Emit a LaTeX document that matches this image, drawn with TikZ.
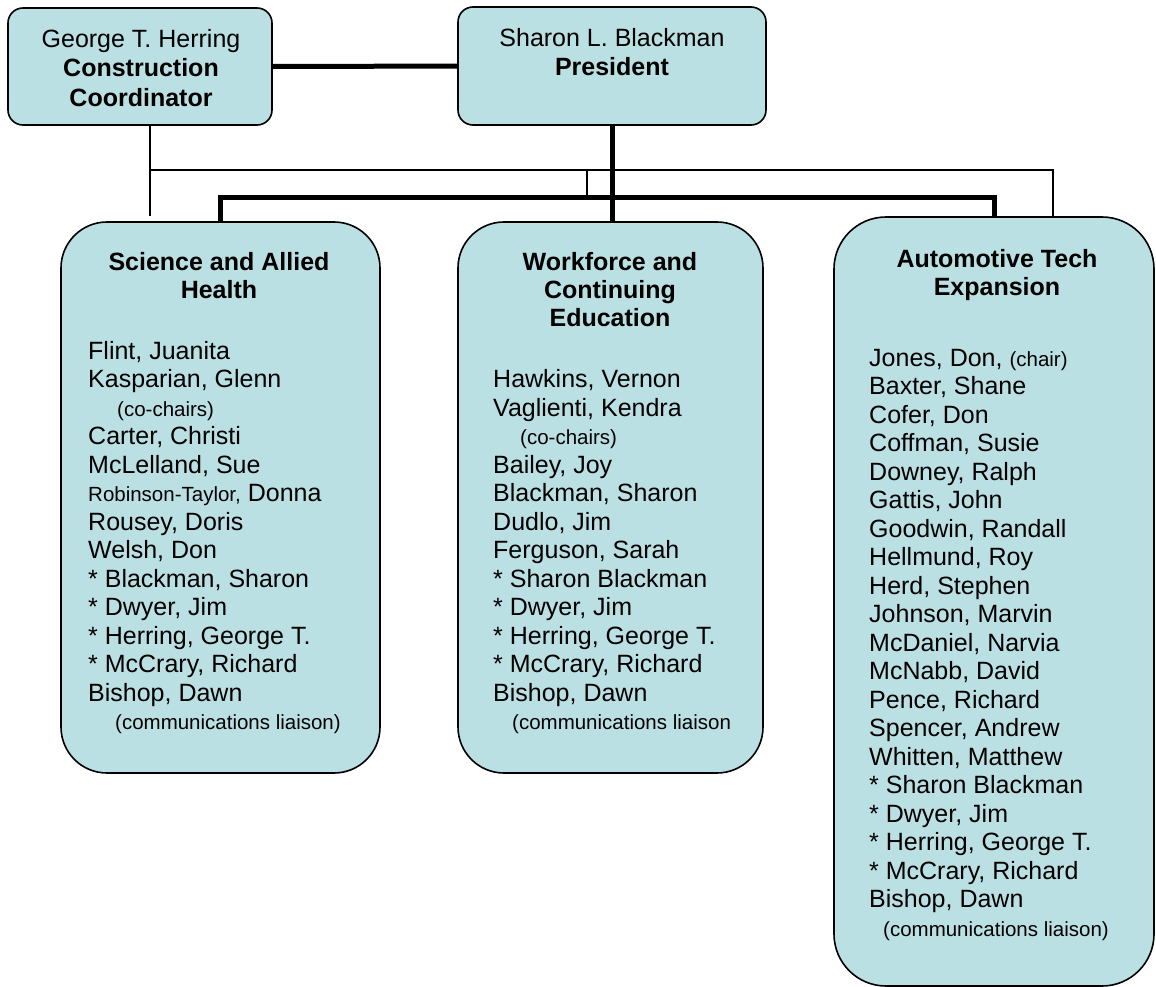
\documentclass[tikz,border=0pt]{standalone}
\usepackage{fontspec}
\setmainfont{Liberation Sans}
\usetikzlibrary{calc}
\definecolor{boxfill}{RGB}{187,224,227}
\newcommand{\smtxt}[1]{{\fontsize{20.5}{24}\selectfont #1}}

\begin{document}
\begin{tikzpicture}[x=1pt, y=-1pt,
    unit/.style={draw, line width=1.6pt, fill=boxfill, rounded corners=15pt, inner sep=0pt},
    group/.style={unit, rounded corners=46pt},
    bigline/.style={line width=5pt},
    thinline/.style={line width=1.3pt},
    lbl/.style={inner sep=0pt, anchor=north, align=center, font=\fontsize{25}{29.5}\selectfont},
    title/.style={lbl, font=\bfseries\fontsize{25}{28}\selectfont},
    members/.style={inner sep=0pt, anchor=north west, align=left, font=\fontsize{25}{28.5}\selectfont}]
    \useasboundingbox (0,0) rectangle (1156,987);
    \node[unit, minimum width=264pt, minimum height=117pt] (cc) at (140,66.5) {};
    \node[unit, minimum width=308pt, minimum height=118pt] (pres) at (612,66) {};
    \node[group, minimum width=319pt, minimum height=551pt] (sah) at (220.5,497.5) {};
    \node[group, minimum width=305pt, minimum height=551pt] (wce) at (610.5,497.5) {};
    \node[group, rounded corners=52pt, minimum width=320pt, minimum height=769pt] (ate) at (994,601.5) {};
    \coordinate (bus) at (611,198);
    \coordinate (tl) at (150,170);
    \coordinate (tr) at (1053,170);
    \coordinate (tk) at (587,170);
    \draw[bigline] (cc) -- (pres);
    \draw[bigline] (pres.south) -- (pres.south |- wce.north);
    \draw[bigline] (sah.north) |- (bus) -| (ate.north);
    \draw[thinline] (cc.south -| tl) -- (tl |- ate.north);
    \draw[thinline] (tl) -- (tr) -- (tr |- ate.north);
    \draw[thinline] (tk) -- (tk |- bus);
    \node[lbl] (cct) at (141,29) {George T. Herring\\\textbf{Construction}\\\textbf{Coordinator}};
    \node[lbl] (prt) at (612,28) {Sharon L. Blackman\\\textbf{President}};
    \node[title] (saht) at (219,252) {Science and Allied\\Health};
    \node[title] (wcet) at (610,252) {Workforce and\\Continuing\\Education};
    \node[title] (atet) at (997,249) {Automotive Tech\\Expansion};
    \node[members] (sahl) at (88,341) {Flint, Juanita\\Kasparian, Glenn\\\hspace*{29pt}\smtxt{(co-chairs)}\\Carter, Christi\\McLelland, Sue\\\smtxt{Robinson-Taylor,} Donna\\Rousey, Doris\\Welsh, Don\\{*} Blackman, Sharon\\{*} Dwyer, Jim\\{*} Herring, George T.\\{*} McCrary, Richard\\Bishop, Dawn\\\hspace*{27pt}\smtxt{(communications liaison)}};
    \node[members] (wcel) at (493,369.5) {Hawkins, Vernon\\Vaglienti, Kendra\\\hspace*{27pt}\smtxt{(co-chairs)}\\Bailey, Joy\\Blackman, Sharon\\Dudlo, Jim\\Ferguson, Sarah\\{*} Sharon Blackman\\{*} Dwyer, Jim\\{*} Herring, George T.\\{*} McCrary, Richard\\Bishop, Dawn\\\hspace*{19pt}\smtxt{(communications liaison}};
    \node[members] (atel) at (869,349) {Jones, Don, \smtxt{(chair)}\\Baxter, Shane\\Cofer, Don\\Coffman, Susie\\Downey, Ralph\\Gattis, John\\Goodwin, Randall\\Hellmund, Roy\\Herd, Stephen\\Johnson, Marvin\\McDaniel, Narvia\\McNabb, David\\Pence, Richard\\Spencer, Andrew\\Whitten, Matthew\\{*} Sharon Blackman\\{*} Dwyer, Jim\\{*} Herring, George T.\\{*} McCrary, Richard\\Bishop, Dawn\\\hspace*{14pt}\smtxt{(communications liaison)}};
\end{tikzpicture}
\end{document}
